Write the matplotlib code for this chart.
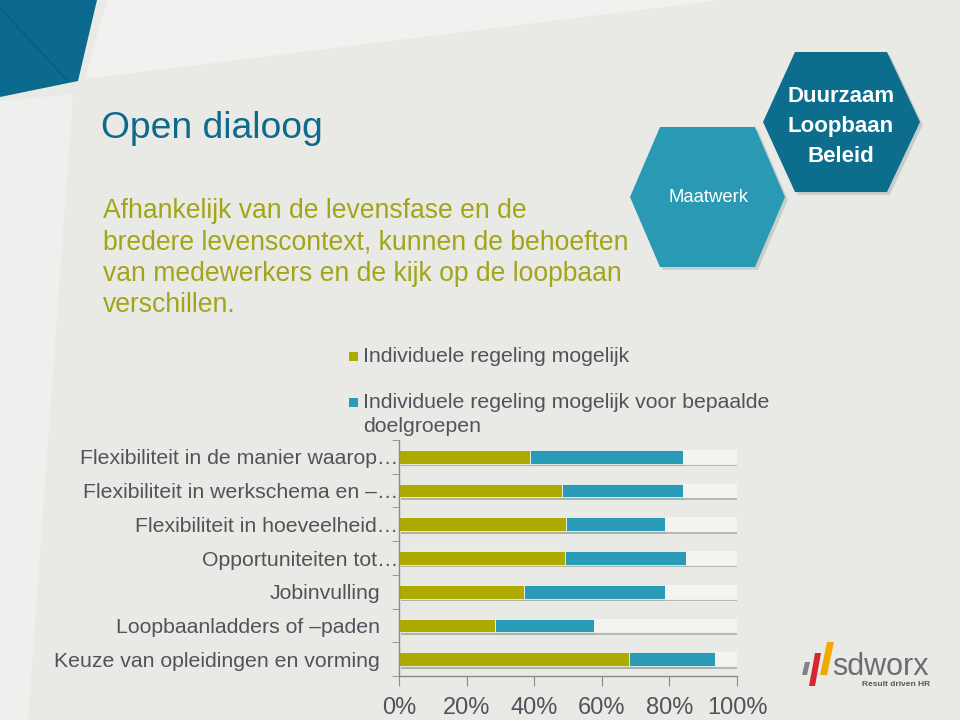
import matplotlib.pyplot as plt
import numpy as np
from matplotlib.patches import Polygon, Rectangle
import matplotlib.patheffects as pe

plt.rcParams['font.family'] = ['Liberation Sans', 'DejaVu Sans']

# data (percent of respondents), top to bottom
categories = ['Flexibiliteit in de manier waarop…',
              'Flexibiliteit in werkschema en –…',
              'Flexibiliteit in hoeveelheid…',
              'Opportuniteiten tot…',
              'Jobinvulling',
              'Loopbaanladders of –paden',
              'Keuze van opleidingen en vorming']
individueel = [38.8, 48.2, 49.4, 49.2, 37.1, 28.5, 67.9]
doelgroepen = [45.2, 35.7, 29.4, 35.7, 41.5, 29.3, 25.7]
overig = [16.0, 16.1, 21.2, 15.1, 21.4, 42.2, 6.4]
series_names = ['Individuele regeling mogelijk',
                'Individuele regeling mogelijk voor bepaalde\ndoelgroepen']
xticks = [0, 20, 40, 60, 80, 100]
xtick_labels = ['0%', '20%', '40%', '60%', '80%', '100%']

body_lines = ['Afhankelijk van de levensfase en de',
              'bredere levenscontext, kunnen de behoeften',
              'van medewerkers en de kijk op de loopbaan',
              'verschillen.']

OLIVE = '#adaa00'
TEAL = '#2a9bb6'
REST = '#f3f3f2'
BG = '#e9eae6'
GREY_TXT = '#50545a'

W, H = 960, 720
fig = plt.figure(figsize=(9.6, 7.2), dpi=100)
fig.patch.set_facecolor(BG)


def px(pts):
    return [(x / W, 1 - y / H) for x, y in pts]


def fpoly(pts, color, **kw):
    fig.add_artist(Polygon(px(pts), closed=True, facecolor=color,
                           edgecolor='none', transform=fig.transFigure, **kw))


# background decoration
fpoly([(107, 0), (720, 0), (85, 79)], '#f1f2ef')
fpoly([(0, 101), (73, 94), (28, 720), (0, 720)], '#eff0ed')
fpoly([(0, 0), (97, 0), (78, 81), (0, 97)], '#0b6a8d')
fig.add_artist(plt.Line2D([0, 68 / W], [1 - 8 / H, 1 - 81 / H],
                          color='#095a78', lw=0.8, transform=fig.transFigure))

# hexagons
shadow = [pe.SimplePatchShadow(offset=(2, -2), alpha=0.15), pe.Normal()]
fig.add_artist(Polygon(px([(660, 127), (755, 127), (785, 197), (755, 267),
                           (660, 267), (630, 197)]), closed=True,
                       facecolor='#2a9ab4', edgecolor='none',
                       transform=fig.transFigure, path_effects=shadow))
fig.add_artist(Polygon(px([(795, 52), (887, 52), (920, 122), (887, 192),
                           (795, 192), (763, 122)]), closed=True,
                       facecolor='#0d6d8d', edgecolor='none',
                       transform=fig.transFigure, path_effects=shadow))
fig.text(708 / W, 1 - 197 / H, 'Maatwerk', color='white', fontsize=13.3,
         ha='center', va='center')
for i, word in enumerate(['Duurzaam', 'Loopbaan', 'Beleid']):
    fig.text(841 / W, 1 - (97 + 29.5 * i) / H, word, color='white',
             fontsize=16, fontweight='bold', ha='center', va='center')

# title and body text
fig.text(101 / W, 1 - 129 / H, 'Open dialoog', color='#0d6a8c',
         fontsize=26.8, ha='left', va='center')
for i, line in enumerate(body_lines):
    fig.text(103 / W, 1 - (211 + 31.3 * i) / H, line, color='#a1a619',
             fontsize=19.1, ha='left', va='center')

# chart
ax = fig.add_axes([399 / W, 1 - 676 / H, 338 / W, 236 / H])
ax.set_facecolor('none')
y = np.arange(len(categories))
bar_fx = [pe.SimplePatchShadow(offset=(1.2, -1.8), alpha=0.3), pe.Normal()]
left = np.zeros(len(categories))
for vals, col in [(individueel, OLIVE), (doelgroepen, TEAL), (overig, REST)]:
    ax.barh(y, vals, left=left, height=0.41, color=col, edgecolor='#f4f4f2',
            linewidth=0.6, path_effects=bar_fx)
    left = left + np.array(vals)

ax.set_xlim(0, 100)
ax.set_ylim(6.48, -0.45)
ax.set_xticks(xticks)
ax.set_xticklabels(xtick_labels, fontsize=17, color=GREY_TXT)
ax.tick_params(axis='x', length=7, color='#8a8a8a', pad=8)
ax.set_yticks(y)
ax.set_yticklabels(categories, fontsize=15.3, color=GREY_TXT)
ax.tick_params(axis='y', length=0)
for tick, name in zip(ax.yaxis.get_major_ticks(), categories):
    tick.set_pad(0.5 if name.endswith('…') else 13.5)
ax.set_yticks(np.arange(-0.5, len(categories), 1), minor=True)
ax.tick_params(axis='y', which='minor', length=5, color='#8a8a8a')
for s in ['top', 'right']:
    ax.spines[s].set_visible(False)
for s in ['left', 'bottom']:
    ax.spines[s].set_color('#8a8a8a')
    ax.spines[s].set_linewidth(1)

# legend
for i, (name, col) in enumerate(zip(series_names, [OLIVE, TEAL])):
    yc = 356 + 46 * i
    fig.add_artist(Rectangle(((349) / W, 1 - (yc + 4.5) / H), 9 / W, 9 / H,
                             facecolor=col, edgecolor='none',
                             transform=fig.transFigure))
    for j, part in enumerate(name.split('\n')):
        fig.text(363 / W, 1 - (yc + 24 * j) / H, part, color=GREY_TXT,
                 fontsize=15.3, ha='left', va='center')

# logo
fpoly([(802, 675), (807, 675), (810, 662), (805, 662)], '#7f8288')
fpoly([(809, 686), (815, 686), (821, 653), (815, 653)], '#d9262e')
fpoly([(820, 675), (827, 675), (834, 642), (827, 642)], '#f2a900')
fig.text(832 / W, 1 - 675 / H, 'sdworx', color='#6b6d70', fontsize=22,
         ha='left', va='baseline')
fig.text(862 / W, 1 - 684 / H, 'Result driven HR', color='#555759',
         fontsize=6, fontweight='bold', ha='left', va='center')

fig.savefig('out.png', dpi=100, facecolor=fig.get_facecolor())
